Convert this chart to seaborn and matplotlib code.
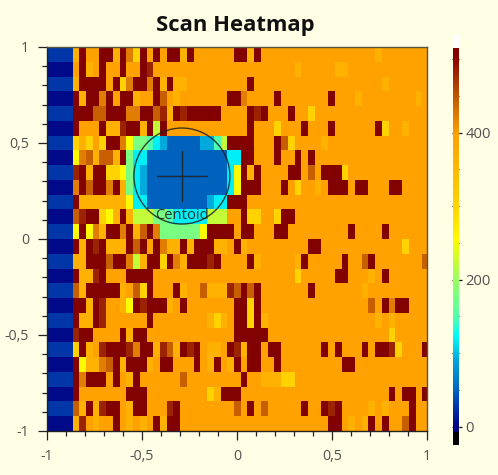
import matplotlib
matplotlib.use("Agg")
import matplotlib.pyplot as plt
from matplotlib.colors import LinearSegmentedColormap
from matplotlib.patches import Ellipse
from matplotlib.ticker import FixedLocator, MultipleLocator, NullFormatter
import numpy as np
import seaborn as sns

TITLE = "Scan Heatmap"
X_TICKS = [-1, -0.5, 0, 0.5, 1]
X_LABELS = ["-1", "-0,5", "0", "0,5", "1"]
CBAR_LABELLED = [0, 200, 400]
CENTROID_LABEL = "Centoid"
CENTROID = (-0.29, 0.328)
CENTROID_RADIUS = 0.2526
CROSS_HALF = 0.13

# intensity readings: one letter per cell, columns grouped by ten
LEVELS = {"N": 8, "n": 30, "B": 52, "b": 95, "c": 122, "q": 150, "m": 180, "L": 225,
          "y": 258, "g": 305, "a": 368, "o": 395, "e": 425, "d": 446, "D": 485, "R": 512}
ROWS = [
    "nnnnaRooRR aRegRoRoRR aRooooooRR aRoooooooo oooooooooa",
    "NNNNoRaoRo oRooRDoooo oooooooooo oooooooaoo oooaaooooo",
    "nnnnaRRRRo RgeRReRaRa aooooooooo Roooooooo oooooooooo oa",
    "NNNNRaRReR oRRaooRdoa oooooooRRe ooooRooooo ooRoooaooo oooooa",
    "nnnnRRRddR RReeRRdDaR DRRRRRoooo RDRoooRoog",
    "NNNNRoooRa aDRRaRLRoo oooooooooo RooogoooRo ooRooooooR gooa",
    "nnnngagogR ReymmqcbBB BBBbbqLRRR RoooRdgooo oa",
    "NNNNyedadd aRmccBBBBB BBBBBBBccR RoooRooRoR",
    "nnnnDRaRRg gymcbBBBBB BBBBBBBcyR aRooooRRod oRRRgooooo",
    "NNNNeRdRRe RamcbBBBBB BBBBBBBcyR RRoooRogoo aoRRRoRRoo oRR",
    "nnnnRaaaaa aaycc BBBBB BBBBbccRRR",
    "NNNNdDRRgy aRaLLLmmqc ccccLLLooR ggoogRRooo",
    "nnnnyRyeaR ReRadRemmm mmmyRRRRoR RoooRRoooo oooooRoooo R",
    "NNNNRaRDRa aaRdRoReaa RaRRRaaoRa oooooooooR Roooooooo oooog",
    "nnnnaaRRRd RReLaRRgRe aRRRDRoooo RaoooooaRo ooooRoodRo ooooood",
    "NNNNRaaDRo ooRRRRoooo oooooooooo ooooooogoo oooRRoooao R",
    "nnnndaRRRR RaodgRoooR aoodaaaDdR dRoooooooR oooooooaoo",
    "NNNNRRaRDo oayRDRRRao RoooooooRR gRoooooooo oooooooodo ReRR",
    "nnnnRaaRDo oooooRoooo ooooagaoRR gRaooooooo oooooooooa oa",
    "NNNNDRRooo oRaRRooooo ooooooooRR RRRooooooo oooooooooo og",
    "nnnngRaoDR RRDeRRaDda RDRoaaoRDa RRoRRooooo oRoRoooRoR RDgoooR",
    "NNNNRyaaed RaRRRaoRRo ooRoaRoaRo RRooRooooo ooooRRoooo",
    "nnnnReRRRo RoaRoooooo dooooooooR ooaaaggooo",
    "NNNNRooooo ooRRRooooo oooogaRRRo oooooooooo oooooooooo oRoRRoR",
    "nnnndaRaDR RoaRRoooDR oooooooodo RodoooooRo oRDRooooao aoooR",
    "NNNNaDoaoo RoaoaoRaRR oooooooooo oooooooooo ooRRoaoaRo RoodR",
]

BG = "#FFFFE6"
TXT = "#505050"
W, H = 498, 475

sns.set_theme(style="white")
plt.rcParams["font.family"] = ["Open Sans", "DejaVu Sans"]

grid = np.array([[LEVELS[ch] for ch in r.replace(" ", "").ljust(57, "o")[:57]] for r in ROWS], float)

anchors = [(-7, (0, 0, 120)), (2, (0, 0, 130)), (28, (0, 50, 165)), (52, (0, 100, 190)),
           (95, (0, 170, 220)), (126, (0, 250, 250)), (150, (80, 255, 175)), (200, (150, 255, 100)),
           (258, (255, 250, 0)), (305, (255, 210, 0)), (400, (255, 160, 0)), (450, (195, 90, 0)),
           (500, (140, 12, 0)), (515, (128, 0, 0))]
vmin, vmax = anchors[0][0], anchors[-1][0]
cmap = LinearSegmentedColormap.from_list(
    "scan", [((v - vmin) / (vmax - vmin), tuple(c / 255 for c in col)) for v, col in anchors], N=512)
cmap.set_under("black")
cmap.set_over("white")


def rect(l, t, r, b):
    return [l / W, 1 - b / H, (r - l) / W, (b - t) / H]


fig = plt.figure(figsize=(W / 100, H / 100), dpi=100, facecolor=BG)
ax = fig.add_axes(rect(47, 47, 427, 431))
cax = fig.add_axes(rect(453, 35, 459.3, 445))

sns.heatmap(grid, ax=ax, cbar_ax=cax, cmap=cmap, vmin=vmin, vmax=vmax, xticklabels=False, yticklabels=False,
            cbar_kws={"extend": "both", "extendrect": True, "extendfrac": 0.034, "drawedges": False})
# the outer columns are cut by the frame
ax.set_xlim(0.2, 56.7)
ax.set_axis_off()

over = fig.add_axes(rect(47, 47, 427, 431), facecolor="none")
over.set_xlim(-1, 1)
over.set_ylim(-1, 1)
over.set_xticks(X_TICKS, X_LABELS)
over.set_yticks(X_TICKS, X_LABELS)
over.xaxis.set_minor_locator(MultipleLocator(0.1))
over.yaxis.set_minor_locator(MultipleLocator(0.1))
over.tick_params(which="major", direction="out", length=6.5, width=0.9, color="#222222",
                 labelcolor=TXT, labelsize=10.2, pad=6.5, bottom=True, left=True)
over.tick_params(which="minor", direction="out", length=3.6, width=0.9, color="#222222", bottom=True, left=True)
for name, sp in over.spines.items():
    sp.set_visible(True)
    sp.set_linewidth(1)
    sp.set_color("#222222" if name in ("left", "bottom") else "#55553F")

cx, cy = CENTROID
over.add_patch(Ellipse(CENTROID, 2 * CENTROID_RADIUS, 2 * CENTROID_RADIUS * 190 / 192, fill=False,
                       ec="#202020", lw=1.0, alpha=0.85))
over.plot([cx - CROSS_HALF, cx + CROSS_HALF], [cy, cy], color="#202020", lw=1.0, alpha=0.85)
over.plot([cx, cx], [cy - CROSS_HALF, cy + CROSS_HALF], color="#202020", lw=1.0, alpha=0.85)
over.text(cx, cy - 0.205, CENTROID_LABEL, ha="center", va="center", fontsize=10.6, color="#202020", alpha=0.9)

fig.text(235 / W, 1 - 26 / H, TITLE, ha="center", va="center", fontsize=15.8, fontweight="bold",
         family=["Open Sans", "DejaVu Sans"], color="#111111")

cbar = ax.collections[0].colorbar
cbar.outline.set_visible(False)
cbar.solids.set_edgecolor("face")
cbar.set_ticks(list(range(0, 501, 100)))
cbar.ax.yaxis.set_major_formatter(NullFormatter())
cbar.ax.yaxis.set_minor_locator(FixedLocator(list(range(50, 500, 100))))
cbar.ax.tick_params(which="major", direction="in", right=True, length=5.2, width=0.9, color="#111111")
cbar.ax.tick_params(which="minor", direction="in", right=True, length=3.8, width=0.9, color="#111111")
sec = cbar.ax.secondary_yaxis("right")
sec.set_yticks(CBAR_LABELLED)
sec.tick_params(direction="out", length=2, width=0.9, color="#111111", labelcolor=TXT, labelsize=10.6, pad=2.5)
sec.spines["right"].set_visible(False)

fig.savefig("out.png", dpi=100, facecolor=BG)
